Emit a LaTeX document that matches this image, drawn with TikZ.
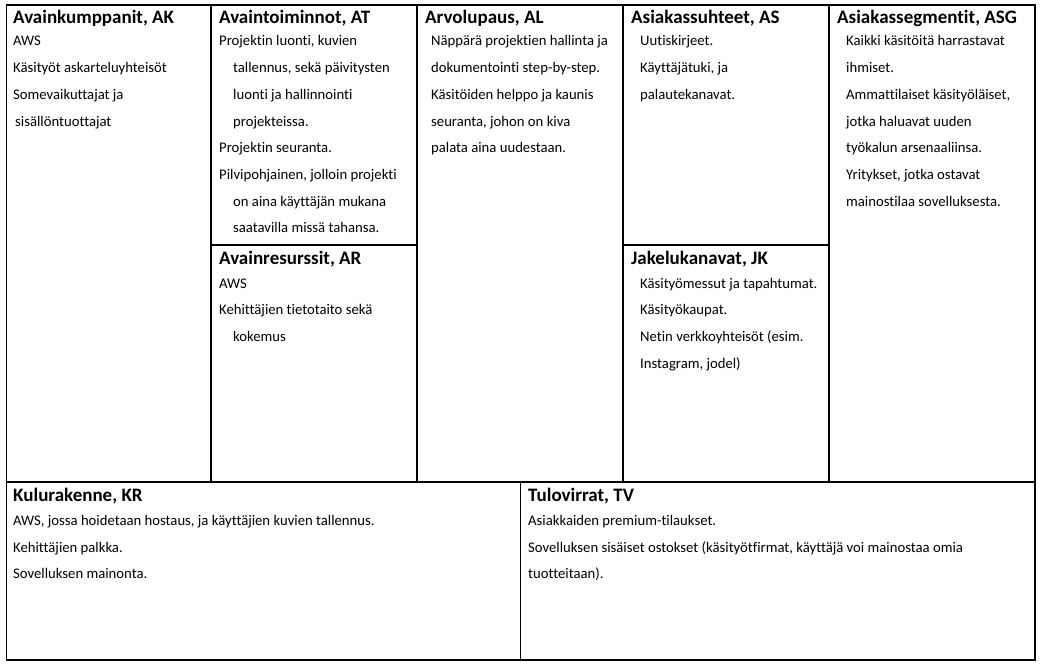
\documentclass[tikz,border=0pt]{standalone}
\usepackage{fontspec}
\setmainfont{Carlito}[Ligatures=NoCommon]
\begin{document}
\begin{tikzpicture}[x=1pt,y=-1pt,
  frame/.style={line width=1.2pt,black},
  ttl/.style={anchor=base west,inner sep=0pt,font=\fontsize{19}{21}\selectfont\bfseries},
  txt/.style={anchor=base west,inner sep=0pt,font=\fontsize{14.7}{16}\selectfont}]
\useasboundingbox (0,0) rectangle (1041,666);
% frame
\draw[frame] (6.5,5) rectangle (1035,660);
\draw[frame] (6.5,482) -- (1035,482);
\draw[frame] (211,5) -- (211,482);
\draw[frame] (417,5) -- (417,482);
\draw[frame] (623,5) -- (623,482);
\draw[frame] (829,5) -- (829,482);
\draw[frame] (211,245) -- (417,245);
\draw[frame] (623,245) -- (829,245);
\draw[frame] (520.5,482) -- (520.5,660);
% AK
\node[ttl] (akT) at (13,24) {Avainkumppanit, AK};
\node[txt] (ak1) at (13,46) {AWS};
\node[txt] (ak2) at (13,72.7) {Käsityöt askarteluyhteisöt};
\node[txt] (ak3) at (13,99.4) {Somevaikuttajat ja};
\node[txt] (ak4) at (15,126.1) {sisällöntuottajat};
% AT
\node[ttl] (atT) at (219,24) {Avaintoiminnot, AT};
\node[txt] (at1) at (219,46) {Projektin luonti, kuvien};
\node[txt] (at2) at (233,72.7) {tallennus, sekä päivitysten};
\node[txt] (at3) at (233,99.4) {luonti ja hallinnointi};
\node[txt] (at4) at (233,126.1) {projekteissa.};
\node[txt] (at5) at (219,152.8) {Projektin seuranta.};
\node[txt] (at6) at (219,179.5) {Pilvipohjainen, jolloin projekti};
\node[txt] (at7) at (233,206.2) {on aina käyttäjän mukana};
\node[txt] (at8) at (233,232.9) {saatavilla missä tahansa.};
% AR
\node[ttl] (arT) at (219,264) {Avainresurssit, AR};
\node[txt] (ar1) at (219,288) {AWS};
\node[txt] (ar2) at (219,314.7) {Kehittäjien tietotaito sekä};
\node[txt] (ar3) at (233,341.4) {kokemus};
% AL
\node[ttl] (alT) at (425,24) {Arvolupaus, AL};
\node[txt] (al1) at (431,46) {Näppärä projektien hallinta ja};
\node[txt] (al2) at (431,72.7) {dokumentointi step-by-step.};
\node[txt] (al3) at (431,99.4) {Käsitöiden helppo ja kaunis};
\node[txt] (al4) at (431,126.1) {seuranta, johon on kiva};
\node[txt] (al5) at (431,152.8) {palata aina uudestaan.};
% AS
\node[ttl] (asT) at (631,24) {Asiakassuhteet, AS};
\node[txt] (as1) at (640,46) {Uutiskirjeet.};
\node[txt] (as2) at (640,72.7) {Käyttäjätuki, ja};
\node[txt] (as3) at (640,99.4) {palautekanavat.};
% JK
\node[ttl] (jkT) at (631,264) {Jakelukanavat, JK};
\node[txt] (jk1) at (640,288) {Käsityömessut ja tapahtumat.};
\node[txt] (jk2) at (640,314.7) {Käsityökaupat.};
\node[txt] (jk3) at (640,341.4) {Netin verkkoyhteisöt (esim.};
\node[txt] (jk4) at (640,368.1) {Instagram, jodel)};
% ASG
\node[ttl] (asgT) at (837,24) {Asiakassegmentit, ASG};
\node[txt] (asg1) at (846,46) {Kaikki käsitöitä harrastavat};
\node[txt] (asg2) at (846,72.7) {ihmiset.};
\node[txt] (asg3) at (846,99.4) {Ammattilaiset käsityöläiset,};
\node[txt] (asg4) at (846,126.1) {jotka haluavat uuden};
\node[txt] (asg5) at (846,152.8) {työkalun arsenaaliinsa.};
\node[txt] (asg6) at (846,179.5) {Yritykset, jotka ostavat};
\node[txt] (asg7) at (846,206.2) {mainostilaa sovelluksesta.};
% KR
\node[ttl] (krT) at (13,501) {Kulurakenne, KR};
\node[txt] (kr1) at (13,525.5) {AWS, jossa hoidetaan hostaus, ja käyttäjien kuvien tallennus.};
\node[txt] (kr2) at (13,552.2) {Kehittäjien palkka.};
\node[txt] (kr3) at (13,578.9) {Sovelluksen mainonta.};
% TV
\node[ttl] (tvT) at (528,501) {Tulovirrat, TV};
\node[txt] (tv1) at (528,525.5) {Asiakkaiden premium-tilaukset.};
\node[txt] (tv2) at (528,552.2) {Sovelluksen sisäiset ostokset (käsityötfirmat, käyttäjä voi mainostaa omia};
\node[txt] (tv3) at (528,578.9) {tuotteitaan).};
\end{tikzpicture}
\end{document}
